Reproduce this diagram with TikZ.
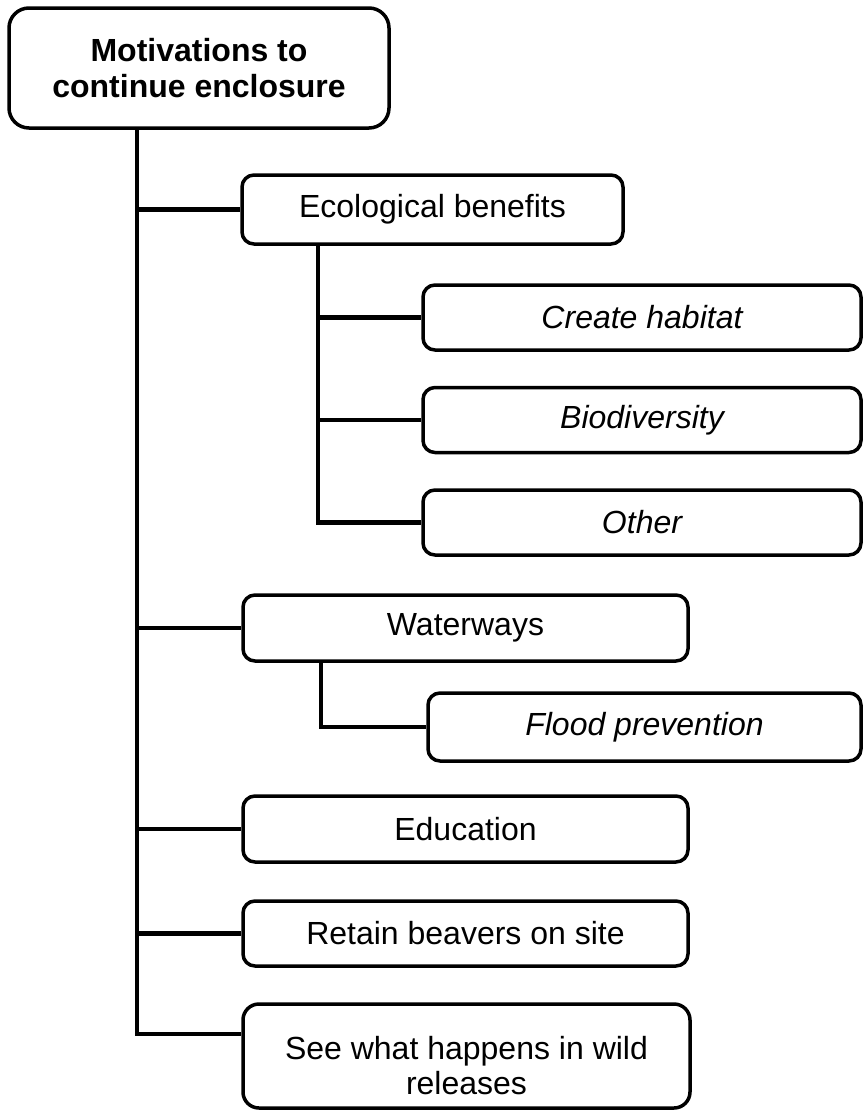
\documentclass[tikz,border=0pt]{standalone}
\usepackage{fontspec}
\setmainfont{Liberation Sans}
\newcommand{\mylines}[2][0pt]{\raisebox{#1}[0pt][0pt]{\begin{tabular}{@{}c@{}}#2\end{tabular}}}
\begin{document}
\begin{tikzpicture}[x=1pt,y=-1pt,
 box/.style={draw, line width=3.5pt, rounded corners=12pt, align=center, inner sep=0pt,
   font=\fontsize{32}{35}\selectfont},
 subbox/.style={box, font=\fontsize{32}{35}\selectfont\itshape},
 conn/.style={line width=4.3pt}]
\useasboundingbox (0,0) rectangle (864,1112);
% boxes
\node[box, rounded corners=20pt, minimum width=380pt, minimum height=120pt,
  font=\fontsize{32}{36}\selectfont\bfseries] (root) at (199,68) {Motivations to\\continue enclosure};
\node[box, minimum width=381pt, minimum height=69pt] (eco) at (432.5,209.5) {Ecological benefits};
\node[subbox, minimum width=438pt, minimum height=65pt] (cre) at (642,317.5) {Create habitat};
\node[subbox, minimum width=438pt, minimum height=65pt] (bio) at (642,420) {Biodiversity};
\node[subbox, minimum width=438pt, minimum height=65pt] (oth) at (642,522.5) {Other};
\node[box, minimum width=445pt, minimum height=66pt] (wat) at (465.5,628) {Waterways};
\node[subbox, minimum width=433pt, minimum height=68pt] (fld) at (644.5,727) {Flood prevention};
\node[box, minimum width=445pt, minimum height=66pt] (edu) at (465.5,829) {Education};
\node[box, minimum width=445pt, minimum height=65pt] (ret) at (465.5,933.5) {Retain beavers on site};
\node[box, rounded corners=16pt, minimum width=447pt, minimum height=104pt,
  font=\fontsize{32}{35}\selectfont] (see) at (466.5,1056) {\mylines[-20pt]{See what happens in wild\\releases}};
% connector helper coordinates
\coordinate (tx) at (137,0);
\coordinate (sx) at (318,0);
\coordinate (wx) at (321,0);
\coordinate (seeC) at ([yshift=-32pt]see.north west);
% main trunk
\draw[conn] (root.south -| tx) |- (seeC);
\draw[conn] (tx |- eco.west) -- (eco.west);
\draw[conn] (tx |- wat.west) -- (wat.west);
\draw[conn] (tx |- edu.west) -- (edu.west);
\draw[conn] (tx |- ret.west) -- (ret.west);
% ecological sub-trunk
\draw[conn] (eco.south -| sx) |- (oth.west);
\draw[conn] (sx |- cre.west) -- (cre.west);
\draw[conn] (sx |- bio.west) -- (bio.west);
% waterways sub-trunk
\draw[conn] (wat.south -| wx) |- (fld.west);
\end{tikzpicture}
\end{document}
